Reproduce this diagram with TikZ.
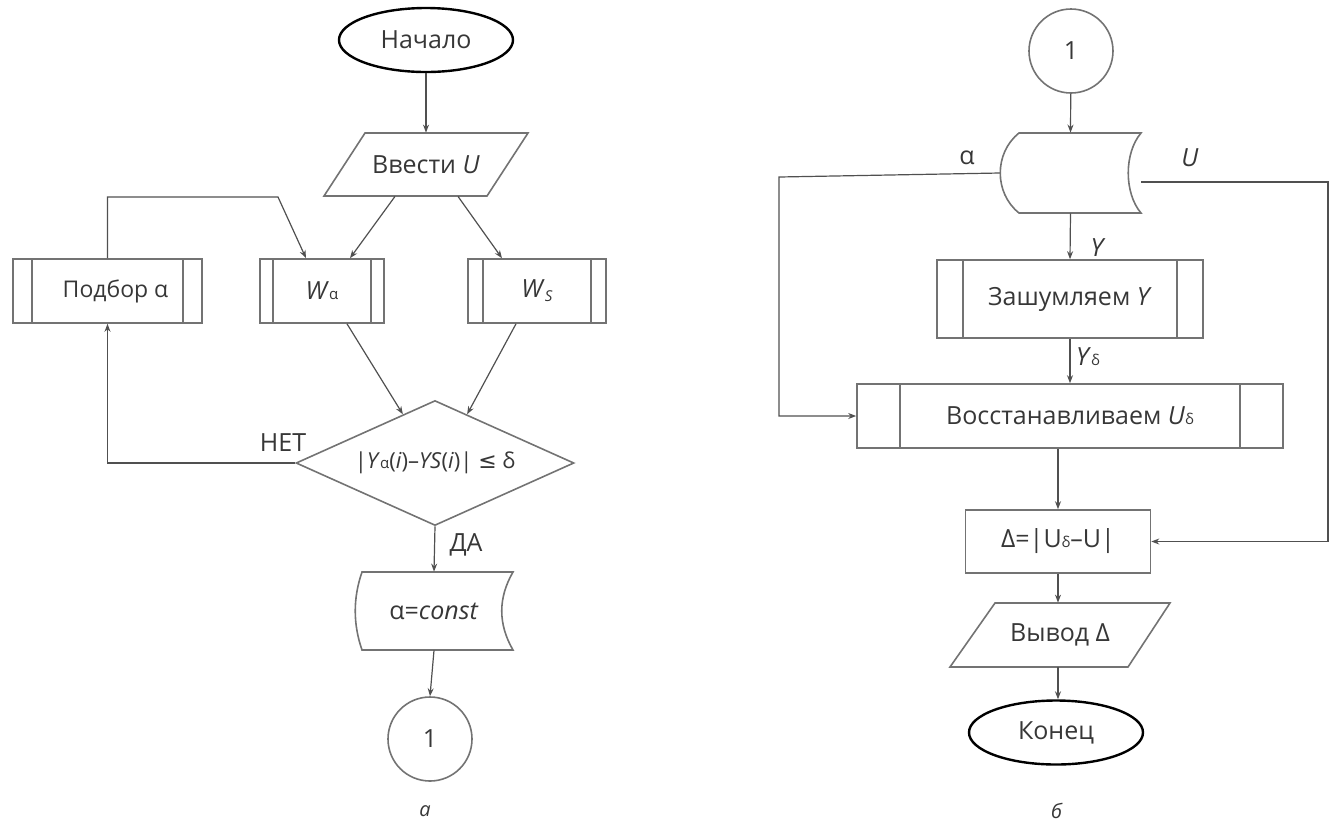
\documentclass[tikz,border=0pt]{standalone}
\usepackage{fontspec}
\setmainfont{Open Sans}
\newfontfamily\symf{DejaVu Sans}
\usetikzlibrary{shapes.geometric,arrows.meta,calc}
\definecolor{lc}{RGB}{80,80,80}
\definecolor{bc}{RGB}{115,115,115}
\definecolor{tc}{RGB}{55,55,55}
\newcommand\fs{\fontsize{12.5}{15}\selectfont}
\newcommand\fsm{\fontsize{11}{13}\selectfont}
\newcommand\lsub[1]{{\fontsize{7.5}{8}\selectfont #1}}
\begin{document}
\begin{tikzpicture}[x=0.5pt,y=-0.5pt,
  ln/.style={draw=lc, line width=0.6pt},
  arr/.style={ln, -{Stealth[length=4pt,width=3pt]}},
  shp/.style={draw=bc, line width=0.8pt},
  txt/.style={inner sep=0pt, text=tc, font=\fs},
  box/.style={rectangle, draw=bc, line width=0.8pt, inner sep=0pt, text=tc, font=\fs},
  pp/.style={box, path picture={\draw[draw=bc, line width=0.8pt]
     ([xshift=#1]path picture bounding box.north west) -- ([xshift=#1]path picture bounding box.south west)
     ([xshift=-#1]path picture bounding box.north east) -- ([xshift=-#1]path picture bounding box.south east);}},
  term/.style={ellipse, draw=black, line width=1.2pt, minimum width=87pt, minimum height=32pt, inner sep=0pt, font=\fs, text=tc},
  circ/.style={circle, draw=bc, line width=0.8pt, minimum size=42pt, inner sep=0pt, font=\fs, text=tc},
  lbl/.style={inner sep=0pt, text=tc, font=\fs},
  captxt/.style={inner sep=0pt, text=tc, font=\fontsize{10}{12}\selectfont}
]
\useasboundingbox (0,0) rectangle (1335,827);

% ---------- left chart (a) ----------
\node[term] (start) at (426,40) {Начало};
\node[txt, minimum width=82pt, minimum height=31.5pt] (inU) at (426,164.5) {Ввести \textit{U}};
\draw[shp] (365,133) -- (528,133) -- (487,196) -- (324,196) -- cycle;
\node[pp=9.5pt, minimum width=94.5pt, minimum height=32pt, font=\fontsize{11.5}{14}\selectfont] (podbor) at (107.5,291) {\hspace*{8pt}Подбор α};
\node[pp=6.5pt, minimum width=62pt, minimum height=32pt] (wa) at (322,291) {\textit{W}\lsub{α}};
\node[pp=7.5pt, minimum width=69pt, minimum height=32pt] (ws) at (537,291) {\textit{W}\raisebox{-2pt}{\lsub{\textit{S}}}};
\node[diamond, draw=bc, line width=0.8pt, minimum width=139pt, minimum height=62.5pt, aspect=2.2, inner sep=0pt, text=tc, font=\fsm] (cond) at (435,463) {|\textit{Y}\lsub{α}(\textit{i})–\textit{YS}(\textit{i})| {\symf ≤} δ};
\node[txt, minimum width=75.5pt, minimum height=39pt] (const) at (434,611) {α=\textit{const}};
\draw[shp] (362,572) -- (513,572) .. controls (498,598) and (498,624) .. (513,650) -- (362,650) .. controls (353,624) and (353,598) .. (362,572) -- cycle;
\node[circ] (c1) at (430,739) {1};

\coordinate (k1) at (278,197);
\draw[arr] (start) -- (inU);
\draw[arr] ([xshift=-15.5pt]inU.south) -- ([xshift=14pt]wa.north);
\draw[arr] ([xshift=16pt]inU.south) -- ([xshift=-17.5pt]ws.north);
\draw[arr] (podbor.north) |- (k1) -- ([xshift=-8pt]wa.north);
\draw[arr] ([xshift=12.5pt]wa.south) -- ($(cond.west)!0.77!(cond.north)$);
\draw[arr] ([xshift=-10.5pt]ws.south) -- ($(cond.east)!0.77!(cond.north)$);
\draw[arr] (cond.west) -| (podbor.south);
\draw[arr] (cond.south) -- (const.north);
\draw[arr] (const.south) -- (c1.north);
\node[lbl] (net) at (283,443) {НЕТ};
\node[lbl] (da) at (466,545) {ДА};
\node[captxt] (capa) at (425,811) {\textit{а}};

% ---------- right chart (b) ----------
\node[circ] (c2) at (1071,51) {1};
\node[txt, minimum width=70.5pt, minimum height=40pt] (stor) at (1070.5,173) {};
\draw[shp] (1019,133) -- (1141,133) .. controls (1124,153) and (1124,193) .. (1141,213) -- (1019,213) .. controls (994,193) and (994,153) .. (1019,133) -- cycle;
\node[pp=13pt, minimum width=133pt, minimum height=39pt] (zash) at (1070,299) {Зашумляем \textit{Y}};
\node[pp=21.5pt, minimum width=213pt, minimum height=32pt] (vost) at (1070,416) {Восстанавливаем \textit{U}\lsub{δ}};
\node[box, minimum width=92.5pt, minimum height=31.5pt] (delta) at (1058,541.5) {Δ=|U\lsub{δ}–U|};
\node[txt, minimum width=87.5pt, minimum height=32pt] (vyvod) at (1060,635) {Вывод Δ};
\draw[shp] (995,603) -- (1170,603) -- (1128,667) -- (950,667) -- cycle;
\node[term] (kon) at (1056,732.5) {Конец};

\coordinate (k2) at (779,177);
\coordinate (k3) at (1328,182);
\draw[arr] (c2) -- (stor.north);
\draw[arr] (stor.south) -- (zash.north);
\draw[arr] (zash.south) -- (vost.north);
\draw[arr] (vost.south -| delta.north) -- (delta.north);
\draw[arr] (delta.south) -- (delta.south |- vyvod.north);
\draw[arr] (delta.south |- vyvod.south) -- (delta.south |- kon.north);
\draw[arr] (stor.west) -- (k2) |- (vost.west);
\draw[arr] ([yshift=-4.5pt]stor.east) -- (k3) |- (delta.east);
\node[lbl] (la) at (967,158) {α};
\node[lbl] (lu) at (1190,158) {\textit{U}};
\node[lbl] (ly) at (1098,248) {\textit{Y}};
\node[lbl] (lyd) at (1088,357) {\textit{Y}\lsub{δ}};
\node[captxt] (capb) at (1057,811) {\textit{б}};
\end{tikzpicture}
\end{document}
